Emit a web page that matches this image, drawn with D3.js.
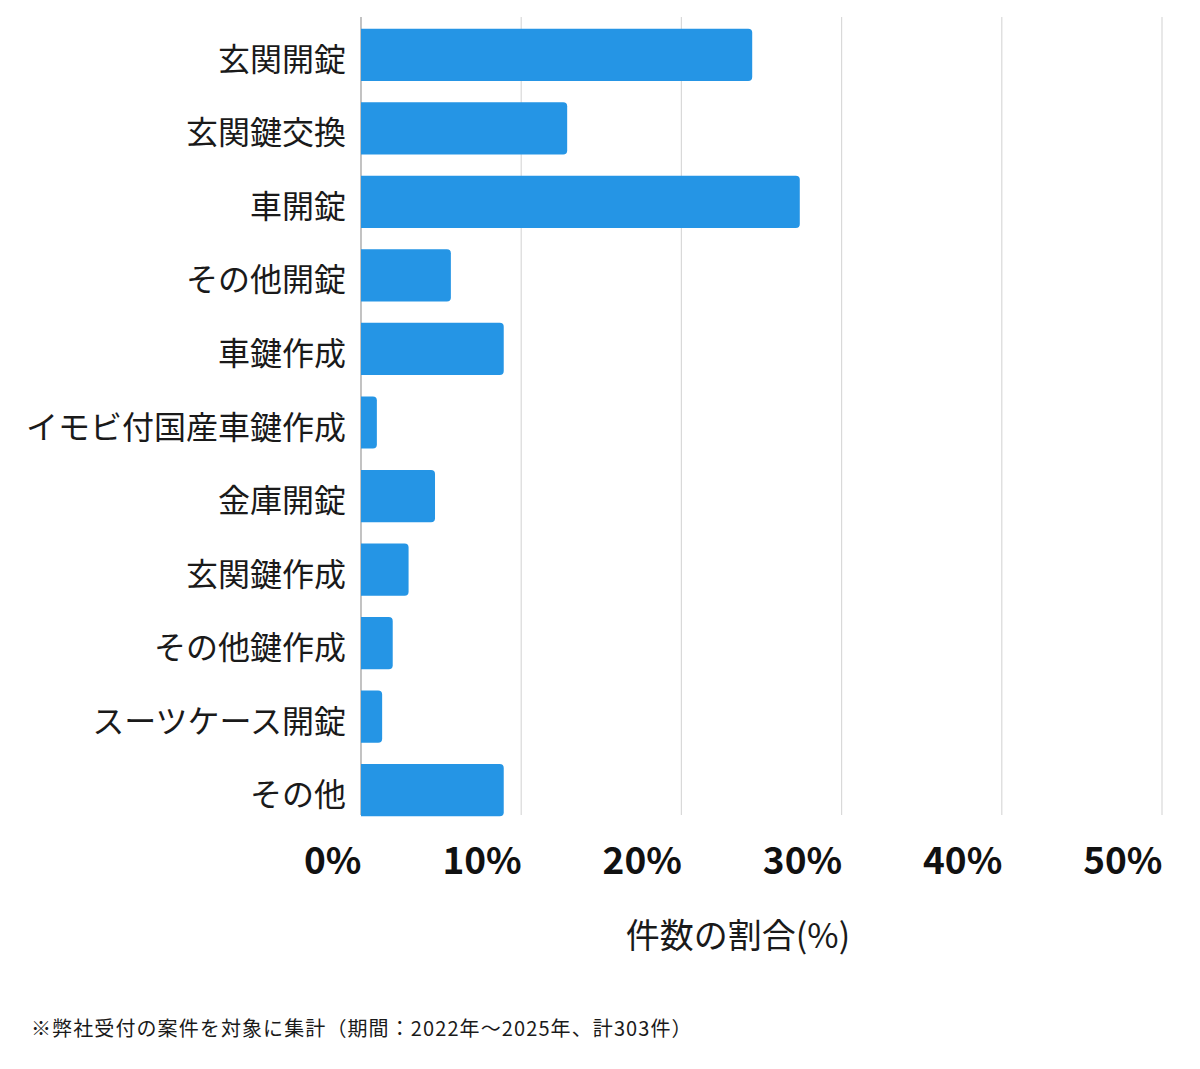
<!DOCTYPE html>
<html>
<head>
<meta charset="utf-8">
<script src="https://cdn.jsdelivr.net/npm/d3@7"></script>
<style>
  body { margin: 0; background: #fff; }
  svg { display: block; font-family: "Noto Sans CJK JP", "Noto Sans", sans-serif; }
</style>
</head>
<body>
<svg id="chart" width="1200" height="1069"></svg>
<script>
const categories = ["玄関開錠", "玄関鍵交換", "車開錠", "その他開錠", "車鍵作成", "イモビ付国産車鍵作成",
    "金庫開錠", "玄関鍵作成", "その他鍵作成", "スーツケース開錠", "その他"];
// share of 303 cases, in %
const shares = [24.42, 12.87, 27.39, 5.61, 8.91, 0.99, 4.62, 2.97, 1.98, 1.32, 8.91];
const xTicks = [0, 10, 20, 30, 40, 50];
const xTitle = "件数の割合(%)";
const note = "※弊社受付の案件を対象に集計（期間：2022年〜2025年、計303件）";

const BAR_COLOR = "#2595e5";
const RADIUS = 4;

const svg = d3.select("#chart");

const x = d3.scaleLinear().domain([0, 50]).range([361, 1162]);
const y = d3.scaleBand().domain(categories).range([18, 827]).paddingInner(0.29).paddingOuter(0.145);

// grid
svg.append("g")
    .selectAll("line")
    .data(xTicks)
    .join("line")
    .attr("x1", d => x(d)).attr("x2", d => x(d))
    .attr("y1", 17).attr("y2", 815)
    .attr("stroke", d => d === 0 ? "#9a9a9a" : "#d9d9d9")
    .attr("stroke-width", 1.2);

// bars, square on the left, rounded on the right
function barPath(v, c) {
    const x0 = x(0), x1 = x(v), y0 = y(c), h = y.bandwidth();
    const r = Math.min(RADIUS, (x1 - x0) / 2);
    return `M${x0},${y0}H${x1 - r}Q${x1},${y0} ${x1},${y0 + r}V${y0 + h - r}Q${x1},${y0 + h} ${x1 - r},${y0 + h}H${x0}Z`;
}

svg.append("g")
    .selectAll("path")
    .data(categories)
    .join("path")
    .attr("d", (c, i) => barPath(shares[i], c))
    .attr("fill", BAR_COLOR);

// category axis
const yAxis = svg.append("g")
    .attr("transform", "translate(361,0)")
    .call(d3.axisLeft(y).tickSize(0).tickPadding(15));
yAxis.select(".domain").remove();
yAxis.selectAll("text")
    .attr("font-size", 32)
    .attr("fill", "#1a1a1a")
    .attr("dy", "0.5em")
    .style("font-family", "'Noto Sans CJK JP', sans-serif");

// value axis
const xAxis = svg.append("g")
    .attr("transform", "translate(0,874)")
    .call(d3.axisBottom(x).tickValues(xTicks).tickSize(0).tickFormat(d => d + "%"));
xAxis.select(".domain").remove();
xAxis.selectAll("text")
    .attr("y", 0)
    .attr("dy", 0)
    .attr("text-anchor", "end")
    .attr("font-size", 37)
    .attr("font-weight", "bold")
    .attr("fill", "#111")
    .style("font-family", "'Noto Sans CJK JP', sans-serif");

svg.append("text")
    .attr("x", 738)
    .attr("y", 948)
    .attr("text-anchor", "middle")
    .attr("font-size", 34)
    .attr("fill", "#1a1a1a")
    .text(xTitle);

svg.append("text")
    .attr("x", 31)
    .attr("y", 1036)
    .attr("font-size", 20)
    .attr("letter-spacing", 1.1)
    .attr("fill", "#1a1a1a")
    .text(note);
</script>
</body>
</html>
